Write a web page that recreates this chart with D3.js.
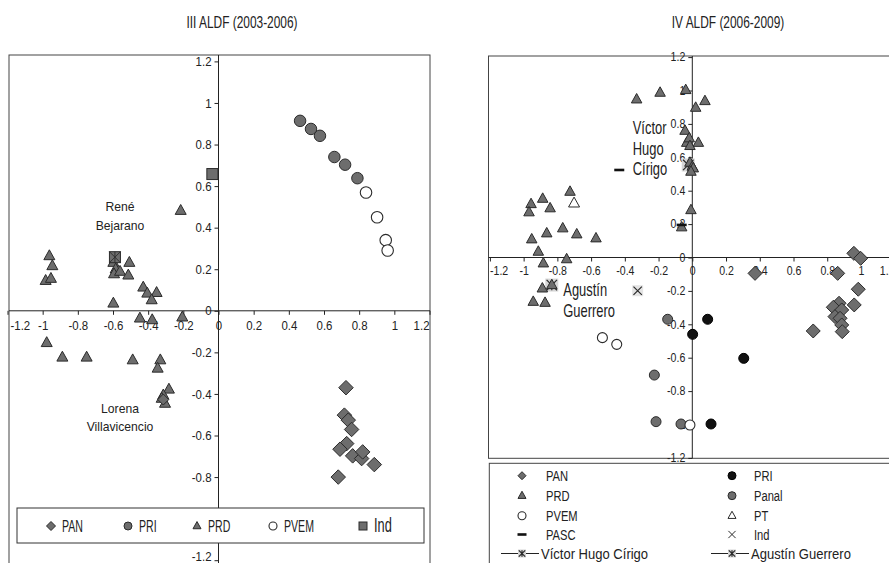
<!DOCTYPE html>
<html>
<head>
<meta charset="utf-8">
<script src="https://cdn.jsdelivr.net/npm/d3@7"></script>
<style>
  html, body { margin: 0; padding: 0; background: #fff; }
  svg text { font-family: "Liberation Sans", Arial, sans-serif; fill: #222; }
</style>
</head>
<body>
<svg id="chart" width="889" height="563"></svg>
<script>
// ---------- III ALDF (2003-2006) ----------
const titleA = "III ALDF (2003-2006)";
const aPAN = [[0.725,-0.370],[0.716,-0.502],[0.738,-0.526],[0.757,-0.571],[0.729,-0.639],[0.691,-0.666],
  [0.763,-0.698],[0.814,-0.711],[0.820,-0.679],[0.886,-0.740],[0.681,-0.800]];
const aPRI = [[0.464,0.914],[0.526,0.875],[0.577,0.842],[0.659,0.740],[0.720,0.703],[0.790,0.638]];
const aPRD = [[-0.962,0.264],[-0.945,0.216],[-0.983,0.145],[-0.953,0.155],[-0.598,0.232],[-0.585,0.200],
  [-0.594,0.177],[-0.560,0.189],[-0.507,0.232],[-0.513,0.171],[-0.428,0.113],[-0.405,0.084],[-0.352,0.087],
  [-0.380,0.052],[-0.215,0.482],[-0.598,0.036],[-0.447,-0.036],[-0.377,-0.044],[-0.206,-0.031],
  [-0.977,-0.154],[-0.888,-0.224],[-0.750,-0.224],[-0.488,-0.237],[-0.331,-0.237],[-0.346,-0.277],
  [-0.282,-0.378],[-0.314,-0.406],[-0.323,-0.422],[-0.304,-0.446]];
const aPVEM = [[0.839,0.569],[0.902,0.450],[0.951,0.340],[0.962,0.290]];
const aInd = [[-0.035,0.658]];
const aBejarano = [[-0.589,0.258]];
const aVillavicencio = [[-0.314,-0.427]];
const aNotes = [
  {x:-0.56, y:0.479, lines:["René","Bejarano"]},
  {x:-0.56, y:-0.492, lines:["Lorena","Villavicencio"]}
];
const aLegend = ["PAN","PRI","PRD","PVEM","Ind"];

// ---------- IV ALDF (2006-2009) ----------
const titleB = "IV ALDF (2006-2009)";
const bPAN = [[0.958,0.025],[0.998,-0.005],[0.372,-0.095],[0.862,-0.095],[0.984,-0.190],[0.960,-0.284],
  [0.870,-0.274],[0.836,-0.298],[0.886,-0.314],[0.846,-0.354],[0.876,-0.364],[0.886,-0.404],
  [0.889,-0.444],[0.717,-0.440]];
const bPRI = [[0.091,-0.370],[0.002,-0.460],[0.305,-0.604],[0.111,-0.997]];
const bPRD = [[-0.330,0.947],[-0.191,0.987],[-0.039,1.003],[0.020,0.897],[0.075,0.937],[-0.043,0.759],
  [-0.033,0.687],[-0.018,0.714],[0.036,0.687],[-0.014,0.668],[-0.014,0.568],[0.000,0.544],[0.006,0.534],
  [-0.008,0.514],[-0.008,0.284],[-0.063,0.181],
  [-0.956,0.320],[-0.968,0.271],[-0.887,0.352],[-0.843,0.295],[-0.725,0.394],[-0.952,0.109],
  [-0.863,0.145],[-0.768,0.175],[-0.685,0.139],[-0.571,0.115],[-0.913,0.035],[-0.745,-0.010],
  [-0.883,-0.035],[-0.889,-0.185],[-0.833,-0.165],[-0.943,-0.265],[-0.873,-0.271]];
const bPanal = [[-0.146,-0.370],[-0.225,-0.704],[-0.215,-0.983],[-0.067,-0.997]];
const bPVEM = [[-0.533,-0.480],[-0.448,-0.520],[-0.014,-1.003]];
const bPT = [[-0.701,0.325]];
const bPASC = [[-0.063,0.195],[-0.433,0.524]];
const bInd = [[-0.324,-0.199]];
const bCirigo = [[-0.024,0.554]];
const bGuerrero = [[-0.833,-0.165]];
const bNotes = [
  {x:-0.353, y:0.74, lines:["Víctor","Hugo","Círigo"]},
  {x:-0.765, y:-0.233, lines:["Agustín","Guerrero"]}
];
const bLegendLeft = ["PAN","PRD","PVEM","PASC","Víctor Hugo Círigo"];
const bLegendRight = ["PRI","Panal","PT","Ind","Agustín Guerrero"];

const tickValues = [-1.2,-1,-0.8,-0.6,-0.4,-0.2,0,0.2,0.4,0.6,0.8,1,1.2];
const fmt = d => String(+d.toFixed(1));

const GREY = "#6d6d6d", DARK = "#2b2b2b", LIGHT = "#d6d6d6";
const svg = d3.select("#chart");

// narrow the glyphs of a text selection horizontally by factor k
function squeeze(sel, k) {
  sel.each(function () {
    const w = this.getComputedTextLength();
    this.setAttribute("textLength", (w * k).toFixed(2));
    this.setAttribute("lengthAdjust", "spacingAndGlyphs");
  });
  return sel;
}

// marker painters
function drawPoints(g, data, x, y, kind, s) {
  const sel = g.selectAll(null).data(data).enter().append("g")
    .attr("transform", d => `translate(${x(d[0])},${y(d[1])})`);
  paint(sel, kind, s);
}
function paint(sel, kind, s) {
  if (kind === "diamond") {
    sel.append("path").attr("d", `M0,${-s/2}L${s/2},0L0,${s/2}L${-s/2},0Z`)
      .attr("fill", GREY).attr("stroke", DARK).attr("stroke-width",1);
  } else if (kind === "circle") {
    sel.append("circle").attr("r", s/2).attr("fill", GREY).attr("stroke", DARK).attr("stroke-width",1);
  } else if (kind === "black") {
    sel.append("circle").attr("r", s/2).attr("fill", "#111").attr("stroke", "#000").attr("stroke-width",1);
  } else if (kind === "open") {
    sel.append("circle").attr("r", s/2).attr("fill", "#fff").attr("stroke", DARK).attr("stroke-width",1.1);
  } else if (kind === "triangle" || kind === "opentri") {
    const h = s*0.9;
    sel.append("path").attr("d", `M0,${-h*0.62}L${s/2},${h*0.38}L${-s/2},${h*0.38}Z`)
      .attr("fill", kind === "triangle" ? GREY : "#fff").attr("stroke", DARK).attr("stroke-width",1);
  } else if (kind === "square") {
    sel.append("rect").attr("x",-s/2).attr("y",-s/2).attr("width",s).attr("height",s)
      .attr("fill", GREY).attr("stroke", DARK).attr("stroke-width",1);
  } else if (kind === "squarex") {
    sel.append("rect").attr("x",-s/2).attr("y",-s/2).attr("width",s).attr("height",s)
      .attr("fill", GREY).attr("stroke", DARK).attr("stroke-width",1);
    sel.append("path").attr("d",`M${-s/2},${-s/2}L${s/2},${s/2}M${s/2},${-s/2}L${-s/2},${s/2}M0,${-s/2}V${s/2}`)
      .attr("stroke", DARK).attr("stroke-width",0.9);
  } else if (kind === "star") {
    sel.append("rect").attr("x",-s/2).attr("y",-s/2).attr("width",s).attr("height",s)
      .attr("fill", LIGHT).attr("stroke","none");
    const r = s*0.4;
    sel.append("path").attr("d",`M${-r},${-r}L${r},${r}M${r},${-r}L${-r},${r}M0,${-r}V${r}`)
      .attr("stroke", DARK).attr("stroke-width",1.2);
  } else if (kind === "x") {
    sel.append("rect").attr("x",-s/2).attr("y",-s/2).attr("width",s).attr("height",s)
      .attr("fill", "#e4e4e4").attr("stroke","none");
    const r = s*0.38;
    sel.append("path").attr("d",`M${-r},${-r}L${r},${r}M${r},${-r}L${-r},${r}`)
      .attr("stroke", DARK).attr("stroke-width",1.2);
  } else if (kind === "xplain") {
    const r = s*0.4;
    sel.append("path").attr("d",`M${-r},${-r}L${r},${r}M${r},${-r}L${-r},${r}`)
      .attr("stroke", DARK).attr("stroke-width",1);
  } else if (kind === "dash") {
    sel.append("rect").attr("x",-s/2).attr("y",-1.3).attr("width",s).attr("height",2.6).attr("fill","#111");
  }
}

function drawAxes(g, x, y, frame, fs, xPad) {
  const ya = g.append("g").attr("transform", `translate(${x(0)},0)`)
    .call(d3.axisLeft(y).tickValues(tickValues).tickFormat(fmt).tickSize(4).tickPadding(3));
  ya.select(".domain").remove();
  ya.append("line").attr("x1",0).attr("x2",0).attr("y1",frame.y0).attr("y2",frame.y1).attr("stroke","#222");
  const xa = g.append("g").attr("transform", `translate(0,${y(0)})`)
    .call(d3.axisBottom(x).tickValues(tickValues).tickFormat(fmt).tickSize(4).tickPadding(xPad));
  xa.select(".domain").remove();
  xa.append("line").attr("x1",frame.x0).attr("x2",frame.x1).attr("y1",0).attr("y2",0).attr("stroke","#222");
  g.selectAll(".tick line").attr("stroke","#222");
  g.selectAll(".tick text").attr("font-size", fs).attr("fill","#333")
    .style("font-family",'"Liberation Sans",Arial,sans-serif');
  // keep the outermost category labels inside the frame
  xa.selectAll(".tick text").filter(d => d === -1.2)
    .attr("text-anchor","start").attr("x", frame.x0 + 1 - x(-1.2));
  xa.selectAll(".tick text").filter(d => d === 1.2)
    .attr("text-anchor","end").attr("x", frame.x1 - 1 - x(1.2));
  squeeze(g.selectAll(".tick text"), 0.88);
  return {xa, ya};
}

function drawNotes(g, notes, x, y, anchor, fs, lh, k) {
  notes.forEach(n => {
    n.lines.forEach((l, i) => {
      const t = g.append("text").attr("x", x(n.x)).attr("y", y(n.y) + i*lh)
        .attr("text-anchor", anchor).attr("font-size", fs).text(l);
      squeeze(t, k);
    });
  });
}

// ===== Left panel =====
{
  const g = svg.append("g");
  const xA = d3.scaleLinear().domain([-1.2,1.2]).range([7.5,429.5]);
  const yA = d3.scaleLinear().domain([-1.2,1.2]).range([560.2,61.4]);
  squeeze(g.append("text").attr("x",242).attr("y",28).attr("text-anchor","middle").attr("font-size",17).text(titleA), 0.70);
  g.append("rect").attr("x",9).attr("y",55).attr("width",421).attr("height",530)
    .attr("fill","none").attr("stroke","#444").attr("stroke-width",1);
  const ax = drawAxes(g, xA, yA, {x0:9, x1:430, y0:55, y1:600}, 13, 6);
  ax.ya.selectAll(".tick text").filter(d => d === -1.2).attr("dy","0");
  drawPoints(g, aPAN, xA, yA, "diamond", 14.5);
  drawPoints(g, aPRI, xA, yA, "circle", 11.5);
  drawPoints(g, aPRD, xA, yA, "triangle", 11);
  drawPoints(g, aPVEM, xA, yA, "open", 11.5);
  drawPoints(g, aInd, xA, yA, "square", 11);
  drawPoints(g, aBejarano, xA, yA, "squarex", 11);
  drawPoints(g, aVillavicencio, xA, yA, "diamond", 11);
  drawNotes(g, aNotes, xA, yA, "middle", 13.5, 18.4, 0.9);

  // legend
  const lg = g.append("g");
  lg.append("rect").attr("x",17).attr("y",508).attr("width",407).attr("height",35)
    .attr("fill","#fff").attr("stroke","#333").attr("stroke-width",1);
  const kinds = ["diamond","circle","triangle","open","square"];
  const mx = [51,128,197,273,363];
  aLegend.forEach((name, i) => {
    const it = lg.append("g").attr("transform", `translate(${mx[i]},526)`);
    paint(it, kinds[i], kinds[i]==="diamond" ? 9 : (kinds[i]==="square" ? 8 : 8));
    squeeze(lg.append("text").attr("x", mx[i]+11).attr("y", 532)
      .attr("font-size", name==="Ind" ? 20 : 16.5).text(name), 0.64);
  });
}

// ===== Right panel =====
{
  const g = svg.append("g");
  const xB = d3.scaleLinear().domain([-1.2,1.2]).range([489.9,894.7]);
  const yB = d3.scaleLinear().domain([-1.2,1.2]).range([457.9,57.1]);
  squeeze(g.append("text").attr("x",728).attr("y",28).attr("text-anchor","middle").attr("font-size",17).text(titleB), 0.70);
  g.append("rect").attr("x",488.5).attr("y",56).attr("width",406.5).attr("height",402.3)
    .attr("fill","none").attr("stroke","#444").attr("stroke-width",1);
  drawAxes(g, xB, yB, {x0:488.5, x1:895, y0:56, y1:458.3}, 12, 5);
  drawPoints(g, bPAN, xB, yB, "diamond", 14);
  drawPoints(g, bCirigo, xB, yB, "star", 13);
  drawPoints(g, bGuerrero, xB, yB, "star", 13);
  drawPoints(g, bPRD, xB, yB, "triangle", 10.5);
  drawPoints(g, bPRI, xB, yB, "black", 10);
  drawPoints(g, bPanal, xB, yB, "circle", 10);
  drawPoints(g, bPVEM, xB, yB, "open", 10);
  drawPoints(g, bPT, xB, yB, "opentri", 11);
  drawPoints(g, bPASC, xB, yB, "dash", 10);
  drawPoints(g, bInd, xB, yB, "x", 11);
  drawNotes(g, bNotes, xB, yB, "start", 19, 20.7, 0.68);

  // legend
  const lg = g.append("g");
  lg.append("rect").attr("x",489.3).attr("y",463.3).attr("width",420).attr("height",120)
    .attr("fill","#fff").attr("stroke","#444").attr("stroke-width",1);
  const leftKinds = ["diamond","triangle","open","dash","star"];
  const rightKinds = ["black","circle","opentri","xplain","star"];
  const rowY = [475.7,495.7,515.7,534.5,553.5];
  const sizes = {diamond:8, triangle:8, open:8, dash:9, star:8, black:8, circle:8, opentri:8, xplain:9};
  function legendCol(names, kinds, mX, tX) {
    names.forEach((name, i) => {
      if (kinds[i] === "star") {
        lg.append("line").attr("x1", mX-21).attr("x2", mX+17).attr("y1", rowY[i]).attr("y2", rowY[i])
          .attr("stroke","#222").attr("stroke-width",1);
      }
      const it = lg.append("g").attr("transform", `translate(${mX},${rowY[i]})`);
      paint(it, kinds[i], sizes[kinds[i]]);
      squeeze(lg.append("text").attr("x", kinds[i]==="star" ? mX+19 : tX).attr("y", rowY[i]+5.5)
        .attr("font-size", 15.5).text(name), name.length > 6 ? 0.84 : 0.72);
    });
  }
  legendCol(bLegendLeft, leftKinds, 522, 546);
  legendCol(bLegendRight, rightKinds, 732, 754);
}
</script>
</body>
</html>
